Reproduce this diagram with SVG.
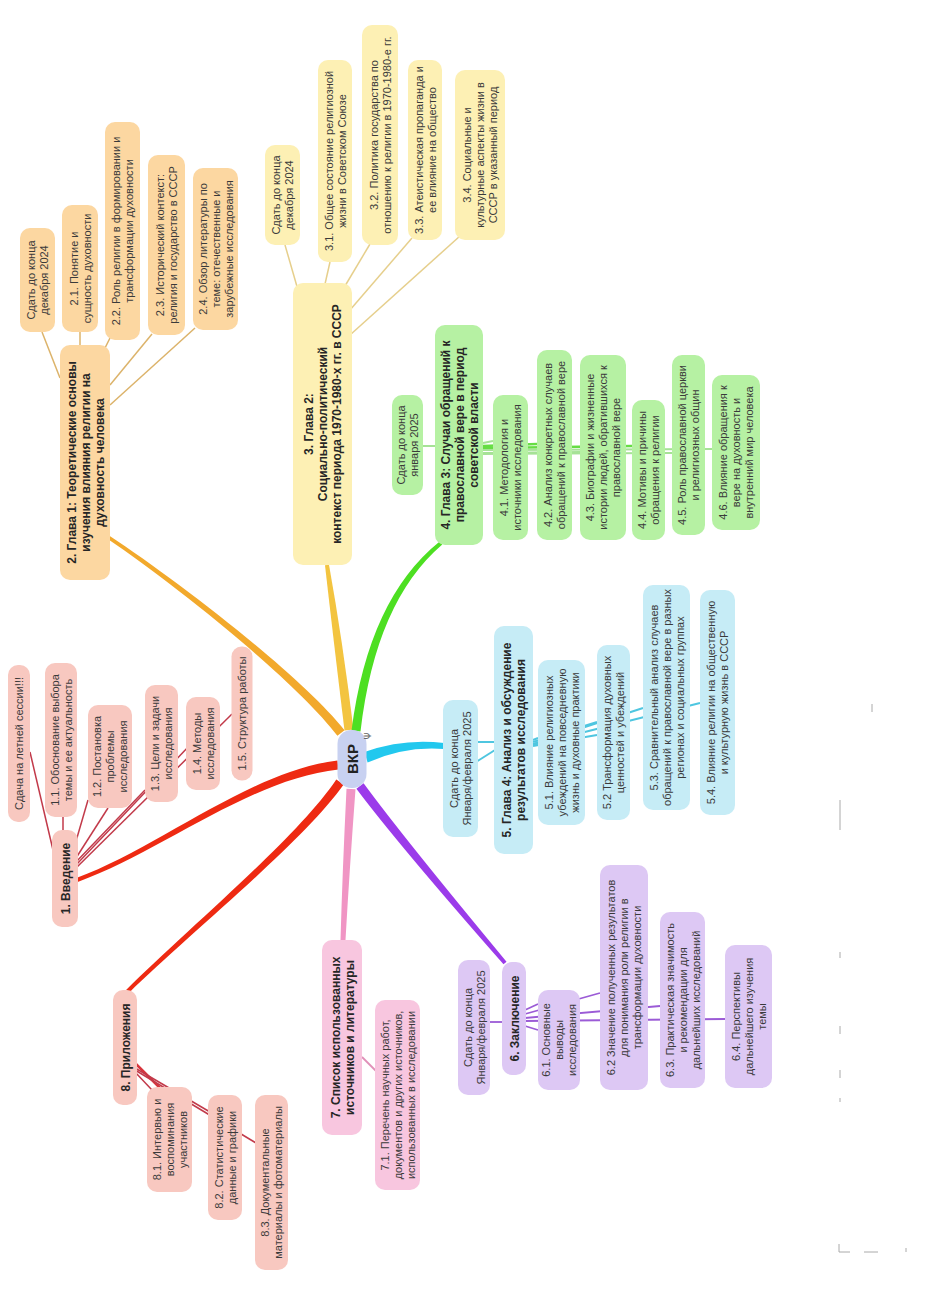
<svg xmlns="http://www.w3.org/2000/svg" width="948" height="1304" viewBox="0 0 948 1304">
<style>
.t{font-family:"Liberation Sans",Arial,sans-serif;font-size:11px;fill:#3a3a3a;text-anchor:middle}
.b{font-family:"Liberation Sans",Arial,sans-serif;font-size:12px;font-weight:bold;fill:#262626;text-anchor:middle}
.c{font-family:"Liberation Sans",Arial,sans-serif;font-size:15px;font-weight:bold;fill:#222;text-anchor:middle}
.or{fill:#fcd7a1}.ye{fill:#fdf0b4}.gr{fill:#b6f1a3}.bl{fill:#c6ecf6}.pu{fill:#ddc8f4}.pk{fill:#f8c6df}.sa{fill:#f8c8c0}.ce{fill:#c8d1f1}
.l1{stroke:#dcb36a;stroke-width:1.5;fill:none}
.l2{stroke:#e6cf8c;stroke-width:1.5;fill:none}
.l3{stroke:#66dd44;stroke-width:2.5;fill:none}
.l3b{stroke:#a6e296;stroke-width:2;fill:none}
.l4{stroke:#4fc6e0;stroke-width:2;fill:none}
.l5{stroke:#9b5bd6;stroke-width:1.8;fill:none}
.l6{stroke:#e090b8;stroke-width:1.8;fill:none}
.l7{stroke:#c23a4a;stroke-width:1.5;fill:none}
.art{stroke:#aaa;stroke-width:1;fill:none}
</style>
<rect width="948" height="1304" fill="#fff"/>
<g id="connectors">
<!-- thick branches -->
<path d="M344.6,730.3 C303,677.6 181.5,583.2 109,535.5 L107,538.5 C178.5,586.8 297,682.4 337.4,735.7 Z" fill="#f2a92c"/>
<path d="M353.5,729.4 Q342.5,640 329,564.7 L325,565.3 Q333.5,640 344.5,730.6 Z" fill="#f3c440"/>
<path d="M360.5,731.5 Q375.5,601.5 442.3,544.5 L439.7,541.5 Q368.5,598.5 351.5,730.5 Z" fill="#4ddf22"/>
<path d="M367.6,762.5 Q404.5,746 443.8,749 L444.2,743 Q403.5,738 364.4,752 Z" fill="#22c8ee"/>
<path d="M356.4,788.7 Q397,843 503.5,964.3 L506.5,961.7 Q403,837 363.6,783.3 Z" fill="#9b3bea"/>
<path d="M346.5,788.7 Q342.5,870 340.5,939.9 L345.5,940.1 Q349.5,870 355.5,789.3 Z" fill="#f095c4"/>
<path d="M337.5,760.5 C249.6,771.2 159.4,847.5 76.3,878.1 L77.7,881.9 C160.6,852.5 250.4,778.8 338.5,769.5 Z" fill="#ee2a12"/>
<path d="M336.3,779.4 C297,838 188,928.5 125.6,990.6 L128.4,993.4 C192,931.5 303,842 343.7,784.6 Z" fill="#ee2a12"/>
<!-- chapter 1 -->
<line class="l1" x1="60" y1="378" x2="42" y2="332"/>
<line class="l1" x1="80" y1="347" x2="80" y2="332"/>
<line class="l1" x1="103" y1="352" x2="110" y2="338"/>
<line class="l1" x1="110" y1="385" x2="152" y2="334"/>
<line class="l1" x1="110" y1="405" x2="195" y2="328"/>
<!-- chapter 2 -->
<line class="l2" x1="298" y1="290" x2="285" y2="245"/>
<line class="l2" x1="325" y1="284" x2="330" y2="262"/>
<line class="l2" x1="345" y1="286" x2="370" y2="244"/>
<line class="l2" x1="350" y1="310" x2="412" y2="238"/>
<line class="l2" x1="350" y1="335" x2="460" y2="236"/>
<!-- chapter 3 -->
<line class="l3b" x1="435" y1="446" x2="423" y2="446"/>
<line class="l3b" x1="483" y1="443" x2="493" y2="441"/>
<line class="l3" x1="483" y1="446" x2="537" y2="444"/>
<line class="l3b" x1="483" y1="453" x2="580" y2="452"/>
<line class="l3" x1="483" y1="448" x2="632" y2="446"/>
<line class="l3b" x1="483" y1="454" x2="672" y2="453"/>
<line class="l3b" x1="483" y1="450" x2="712" y2="449"/>
<!-- chapter 4 -->
<line class="l4" x1="495" y1="742" x2="476" y2="742"/>
<line class="l4" x1="495" y1="750" x2="476" y2="762"/>
<line class="l4" x1="533" y1="740" x2="538" y2="738"/>
<line class="l4" x1="533" y1="742" x2="597" y2="722"/>
<line class="l4" x1="533" y1="746" x2="597" y2="735"/>
<line class="l4" x1="533" y1="744" x2="643" y2="708"/>
<line class="l4" x1="533" y1="745" x2="700" y2="703"/>
<!-- chapter 5 -->
<line class="l5" x1="503" y1="1022" x2="490" y2="1022"/>
<line class="l5" x1="525" y1="1010" x2="538" y2="1004"/>
<line class="l5" x1="525" y1="1026" x2="538" y2="1030"/>
<line class="l5" x1="525" y1="1014" x2="600" y2="993"/>
<line class="l5" x1="525" y1="1018" x2="660" y2="1006"/>
<line class="l5" x1="525" y1="1021" x2="725" y2="1019"/>
<!-- chapter 6 -->
<line class="l6" x1="362" y1="1057" x2="378" y2="1073"/>
<!-- appendix -->
<line class="l7" x1="135" y1="1063" x2="160" y2="1088" style="stroke-width:2.5;stroke:#d8343c"/>
<line class="l7" x1="135" y1="1072" x2="152" y2="1090"/>
<line class="l7" x1="135" y1="1068" x2="210" y2="1112"/>
<line class="l7" x1="135" y1="1070" x2="256" y2="1143"/>
<!-- intro -->
<line class="l7" x1="53" y1="850" x2="30" y2="752"/>
<line class="l7" x1="63" y1="831" x2="63" y2="817"/>
<line class="l7" x1="74" y1="848" x2="88" y2="800"/>
<line class="l7" x1="76" y1="858" x2="108" y2="808"/>
<line class="l7" x1="76" y1="862" x2="145" y2="790"/>
<line class="l7" x1="76" y1="865" x2="190" y2="745"/>
<line class="l7" x1="76" y1="868" x2="232" y2="714"/>
</g>

<g id="center" transform="translate(352,759) rotate(-90)"><rect class="ce" x="-29" y="-14.5" width="58" height="29" rx="14"/><text class="c" x="0" y="5.5">ВКР</text></g>
<text x="371" y="736" transform="rotate(-90 371 736)" style="font-family:'DejaVu Sans',sans-serif;font-size:9px;fill:#666;text-anchor:middle">Ψ</text>

<!-- Chapter 1 -->
<g id="ch1" transform="translate(85,462.5) rotate(-90)"><rect class="or" x="-117.5" y="-25" width="235" height="50" rx="10"/><text class="b"><tspan x="0" y="-9.5">2. Глава 1: Теоретические основы</tspan><tspan x="0" y="4.5">изучения влияния религии на</tspan><tspan x="0" y="18.5">духовность человека</tspan></text></g>
<g id="ch1_due" transform="translate(37.5,280) rotate(-90)"><rect class="or" x="-52" y="-17.5" width="104" height="35" rx="10"/><text class="t"><tspan x="0" y="-2.5">Сдать до конца</tspan><tspan x="0" y="10.5">декабря 2024</tspan></text></g>
<g id="n2_1" transform="translate(80,268.5) rotate(-90)"><rect class="or" x="-63.5" y="-18" width="127" height="36" rx="10"/><text class="t"><tspan x="0" y="-2.5">2.1. Понятие и</tspan><tspan x="0" y="10.5">сущность духовности</tspan></text></g>
<g id="n2_2" transform="translate(122.5,231) rotate(-90)"><rect class="or" x="-109" y="-17.5" width="218" height="35" rx="10"/><text class="t"><tspan x="0" y="-2.5">2.2. Роль религии в формировании и</tspan><tspan x="0" y="10.5">трансформации духовности</tspan></text></g>
<g id="n2_3" transform="translate(166.5,245) rotate(-90)"><rect class="or" x="-90" y="-18.5" width="180" height="37" rx="10"/><text class="t"><tspan x="0" y="-2.5">2.3. Исторический контекст:</tspan><tspan x="0" y="10.5">религия и государство в СССР</tspan></text></g>
<g id="n2_4" transform="translate(215.5,249) rotate(-90)"><rect class="or" x="-81" y="-22.5" width="162" height="45" rx="10"/><text class="t"><tspan x="0" y="-9">2.4. Обзор литературы по</tspan><tspan x="0" y="4">теме: отечественные и</tspan><tspan x="0" y="17">зарубежные исследования</tspan></text></g>

<!-- Chapter 2 -->
<g id="ch2" transform="translate(322.5,424) rotate(-90)"><rect class="ye" x="-141" y="-29.5" width="282" height="59" rx="10"/><text class="b"><tspan x="0" y="-9.5">3. Глава 2:</tspan><tspan x="0" y="4.5">Социально-политический</tspan><tspan x="0" y="18.5">контекст периода 1970-1980-х гг. в СССР</tspan></text></g>
<g id="ch2_due" transform="translate(282.5,195) rotate(-90)"><rect class="ye" x="-50" y="-17.5" width="100" height="35" rx="10"/><text class="t"><tspan x="0" y="-2.5">Сдать до конца</tspan><tspan x="0" y="10.5">декабря 2024</tspan></text></g>
<g id="n3_1" transform="translate(335,161) rotate(-90)"><rect class="ye" x="-101" y="-17" width="202" height="34" rx="10"/><text class="t"><tspan x="0" y="-2.5">3.1. Общее состояние религиозной</tspan><tspan x="0" y="10.5">жизни в Советском Союзе</tspan></text></g>
<g id="n3_2" transform="translate(380,135) rotate(-90)"><rect class="ye" x="-110" y="-18" width="220" height="36" rx="10"/><text class="t"><tspan x="0" y="-2.5">3.2. Политика государства по</tspan><tspan x="0" y="10.5">отношению к религии в 1970-1980-е гг.</tspan></text></g>
<g id="n3_3" transform="translate(425,150) rotate(-90)"><rect class="ye" x="-90" y="-17" width="180" height="34" rx="10"/><text class="t"><tspan x="0" y="-2.5">3.3. Атеистическая пропаганда и</tspan><tspan x="0" y="10.5">ее влияние на общество</tspan></text></g>
<g id="n3_4" transform="translate(480,155) rotate(-90)"><rect class="ye" x="-85" y="-25" width="170" height="50" rx="10"/><text class="t"><tspan x="0" y="-9">3.4. Социальные и</tspan><tspan x="0" y="4">культурные аспекты жизни в</tspan><tspan x="0" y="17">СССР в указанный период</tspan></text></g>

<!-- Chapter 3 -->
<g id="ch3" transform="translate(459,435) rotate(-90)"><rect class="gr" x="-110" y="-24" width="220" height="48" rx="10"/><text class="b"><tspan x="0" y="-9.5">4. Глава 3: Случаи обращений к</tspan><tspan x="0" y="4.5">православной вере в период</tspan><tspan x="0" y="18.5">советской власти</tspan></text></g>
<g id="ch3_due" transform="translate(407.5,445) rotate(-90)"><rect class="gr" x="-50" y="-15.5" width="100" height="31" rx="10"/><text class="t"><tspan x="0" y="-2.5">Сдать до конца</tspan><tspan x="0" y="10.5">января 2025</tspan></text></g>
<g id="n4_1" transform="translate(510.5,467.5) rotate(-90)"><rect class="gr" x="-72.5" y="-17.5" width="145" height="35" rx="10"/><text class="t"><tspan x="0" y="-2.5">4.1. Методология и</tspan><tspan x="0" y="10.5">источники исследования</tspan></text></g>
<g id="n4_2" transform="translate(554.5,445) rotate(-90)"><rect class="gr" x="-95" y="-17.5" width="190" height="35" rx="10"/><text class="t"><tspan x="0" y="-2.5">4.2. Анализ конкретных случаев</tspan><tspan x="0" y="10.5">обращений к православной вере</tspan></text></g>
<g id="n4_3" transform="translate(603,447.5) rotate(-90)"><rect class="gr" x="-92.5" y="-23" width="185" height="46" rx="10"/><text class="t"><tspan x="0" y="-9">4.3. Биографии и жизненные</tspan><tspan x="0" y="4">истории людей, обратившихся к</tspan><tspan x="0" y="17">православной вере</tspan></text></g>
<g id="n4_4" transform="translate(648.5,470) rotate(-90)"><rect class="gr" x="-70" y="-16.5" width="140" height="33" rx="10"/><text class="t"><tspan x="0" y="-2.5">4.4. Мотивы и причины</tspan><tspan x="0" y="10.5">обращения к религии</tspan></text></g>
<g id="n4_5" transform="translate(688.5,445) rotate(-90)"><rect class="gr" x="-90" y="-16.5" width="180" height="33" rx="10"/><text class="t"><tspan x="0" y="-2.5">4.5. Роль православной церкви</tspan><tspan x="0" y="10.5">и религиозных общин</tspan></text></g>
<g id="n4_6" transform="translate(736,452.5) rotate(-90)"><rect class="gr" x="-77.5" y="-24" width="155" height="48" rx="10"/><text class="t"><tspan x="0" y="-9">4.6. Влияние обращения к</tspan><tspan x="0" y="4">вере на духовность и</tspan><tspan x="0" y="17">внутренний мир человека</tspan></text></g>

<!-- Chapter 4 -->
<g id="ch4" transform="translate(513.5,740) rotate(-90)"><rect class="bl" x="-114" y="-19.5" width="228" height="39" rx="10"/><text class="b"><tspan x="0" y="-2.5">5. Глава 4: Анализ и обсуждение</tspan><tspan x="0" y="11.5">результатов исследования</tspan></text></g>
<g id="ch4_due" transform="translate(460.5,768.5) rotate(-90)"><rect class="bl" x="-68.5" y="-17.5" width="137" height="35" rx="10"/><text class="t"><tspan x="0" y="-2.5">Сдать до конца</tspan><tspan x="0" y="10.5">Января/февраля 2025</tspan></text></g>
<g id="n5_1" transform="translate(561.5,742.5) rotate(-90)"><rect class="bl" x="-82.5" y="-23.5" width="165" height="47" rx="10"/><text class="t"><tspan x="0" y="-9">5.1. Влияние религиозных</tspan><tspan x="0" y="4">убеждений на повседневную</tspan><tspan x="0" y="17">жизнь и духовные практики</tspan></text></g>
<g id="n5_2" transform="translate(613.5,732.5) rotate(-90)"><rect class="bl" x="-87.5" y="-16.5" width="175" height="33" rx="10"/><text class="t"><tspan x="0" y="-2.5">5.2 Трансформация духовных</tspan><tspan x="0" y="10.5">ценностей и убеждений</tspan></text></g>
<g id="n5_3" transform="translate(666.5,697.5) rotate(-90)"><rect class="bl" x="-112.5" y="-23.5" width="225" height="47" rx="10"/><text class="t"><tspan x="0" y="-9">5.3. Сравнительный анализ случаев</tspan><tspan x="0" y="4">обращений к православной вере в разных</tspan><tspan x="0" y="17">регионах и социальных группах</tspan></text></g>
<g id="n5_4" transform="translate(717.5,702.5) rotate(-90)"><rect class="bl" x="-112.5" y="-17.5" width="225" height="35" rx="10"/><text class="t"><tspan x="0" y="-2.5">5.4. Влияние религии на общественную</tspan><tspan x="0" y="10.5">и культурную жизнь в СССР</tspan></text></g>

<!-- Chapter 5 -->
<g id="ch5" transform="translate(514,1018.5) rotate(-90)"><rect class="pu" x="-56.5" y="-12" width="113" height="24" rx="10"/><text class="b" x="0" y="4.5">6. Заключение</text></g>
<g id="ch5_due" transform="translate(474,1027.5) rotate(-90)"><rect class="pu" x="-67.5" y="-16" width="135" height="32" rx="10"/><text class="t"><tspan x="0" y="-2.5">Сдать до конца</tspan><tspan x="0" y="10.5">Января/февраля 2025</tspan></text></g>
<g id="n6_1" transform="translate(559,1040) rotate(-90)"><rect class="pu" x="-50" y="-21" width="100" height="42" rx="10"/><text class="t"><tspan x="0" y="-9">6.1. Основные</tspan><tspan x="0" y="4">выводы</tspan><tspan x="0" y="17">исследования</tspan></text></g>
<g id="n6_2" transform="translate(624,977.5) rotate(-90)"><rect class="pu" x="-112.5" y="-24" width="225" height="48" rx="10"/><text class="t"><tspan x="0" y="-9">6.2  Значение полученных результатов</tspan><tspan x="0" y="4">для понимания роли религии в</tspan><tspan x="0" y="17">трансформации духовности</tspan></text></g>
<g id="n6_3" transform="translate(682.5,1000) rotate(-90)"><rect class="pu" x="-88" y="-22.5" width="176" height="45" rx="10"/><text class="t"><tspan x="0" y="-9">6.3. Практическая значимость</tspan><tspan x="0" y="4">и рекомендации для</tspan><tspan x="0" y="17">дальнейших исследований</tspan></text></g>
<g id="n6_4" transform="translate(748.5,1016.5) rotate(-90)"><rect class="pu" x="-71.5" y="-23.5" width="143" height="47" rx="10"/><text class="t"><tspan x="0" y="-9">6.4. Перспективы</tspan><tspan x="0" y="4">дальнейшего изучения</tspan><tspan x="0" y="17">темы</tspan></text></g>

<!-- Chapter 6 -->
<g id="ch6" transform="translate(342,1037.5) rotate(-90)"><rect class="pk" x="-97.5" y="-20" width="195" height="40" rx="10"/><text class="b"><tspan x="0" y="-2.5">7. Список использованных</tspan><tspan x="0" y="11.5">источников и литературы</tspan></text></g>
<g id="n7_1" transform="translate(397.5,1095) rotate(-90)"><rect class="pk" x="-95" y="-22.5" width="190" height="45" rx="10"/><text class="t"><tspan x="0" y="-9">7.1. Перечень научных работ,</tspan><tspan x="0" y="4">документов и других источников,</tspan><tspan x="0" y="17">использованных в исследовании</tspan></text></g>

<!-- Appendix -->
<g id="ch7" transform="translate(125,1047.5) rotate(-90)"><rect class="sa" x="-57.5" y="-12" width="115" height="24" rx="10"/><text class="b" x="0" y="4.5">8. Приложения</text></g>
<g id="n8_1" transform="translate(169.5,1139.5) rotate(-90)"><rect class="sa" x="-52.5" y="-22.5" width="105" height="45" rx="10"/><text class="t"><tspan x="0" y="-9">8.1. Интервью и</tspan><tspan x="0" y="4">воспоминания</tspan><tspan x="0" y="17">участников</tspan></text></g>
<g id="n8_2" transform="translate(225,1157.5) rotate(-90)"><rect class="sa" x="-62.5" y="-17" width="125" height="34" rx="10"/><text class="t"><tspan x="0" y="-2.5">8.2. Статистические</tspan><tspan x="0" y="10.5">данные и графики</tspan></text></g>
<g id="n8_3" transform="translate(271.5,1182.5) rotate(-90)"><rect class="sa" x="-87.5" y="-16.5" width="175" height="33" rx="10"/><text class="t"><tspan x="0" y="-2.5">8.3. Документальные</tspan><tspan x="0" y="10.5">материалы и фотоматериалы</tspan></text></g>

<!-- Intro -->
<g id="intro" transform="translate(65,878.5) rotate(-90)"><rect class="sa" x="-48.5" y="-13" width="97" height="26" rx="10"/><text class="b" x="0" y="4.5">1. Введение</text></g>
<g id="intro_due" transform="translate(19,743.5) rotate(-90)"><rect class="sa" x="-78.5" y="-11" width="157" height="22" rx="10"/><text class="t" x="0" y="4">Сдача на летней сессии!!!</text></g>
<g id="n1_1" transform="translate(61,740) rotate(-90)"><rect class="sa" x="-77" y="-16" width="154" height="32" rx="10"/><text class="t"><tspan x="0" y="-2.5">1.1. Обоснование выбора</tspan><tspan x="0" y="10.5">темы и ее актуальность</tspan></text></g>
<g id="n1_2" transform="translate(110,756.5) rotate(-90)"><rect class="sa" x="-51.5" y="-22" width="103" height="44" rx="10"/><text class="t"><tspan x="0" y="-9">1.2. Постановка</tspan><tspan x="0" y="4">проблемы</tspan><tspan x="0" y="17">исследования</tspan></text></g>
<g id="n1_3" transform="translate(161.5,743.5) rotate(-90)"><rect class="sa" x="-58.5" y="-16.5" width="117" height="33" rx="10"/><text class="t"><tspan x="0" y="-2.5">1.3. Цели и задачи</tspan><tspan x="0" y="10.5">исследования</tspan></text></g>
<g id="n1_4" transform="translate(203,743.5) rotate(-90)"><rect class="sa" x="-46.5" y="-17" width="93" height="34" rx="10"/><text class="t"><tspan x="0" y="-2.5">1.4. Методы</tspan><tspan x="0" y="10.5">исследования</tspan></text></g>
<g id="n1_5" transform="translate(242,713.5) rotate(-90)"><rect class="sa" x="-67" y="-10.5" width="134" height="21" rx="10"/><text class="t" x="0" y="4">1.5. Структура работы</text></g>

<!-- faint scan marks -->
<g id="marks">
<line class="art" x1="872" y1="704" x2="872" y2="712"/>
<line class="art" x1="840" y1="800" x2="840" y2="830"/>
<line class="art" x1="840" y1="952" x2="840" y2="958"/>
<line class="art" x1="840" y1="1026" x2="840" y2="1034"/>
<line class="art" x1="840" y1="1070" x2="840" y2="1078"/>
<line class="art" x1="840" y1="1098" x2="840" y2="1102"/>
<path class="art" d="M839,1244 V1252 H850"/>
<line class="art" x1="864" y1="1252" x2="878" y2="1252"/>
<line class="art" x1="906" y1="1248" x2="906" y2="1252"/>
</g>
</svg>
